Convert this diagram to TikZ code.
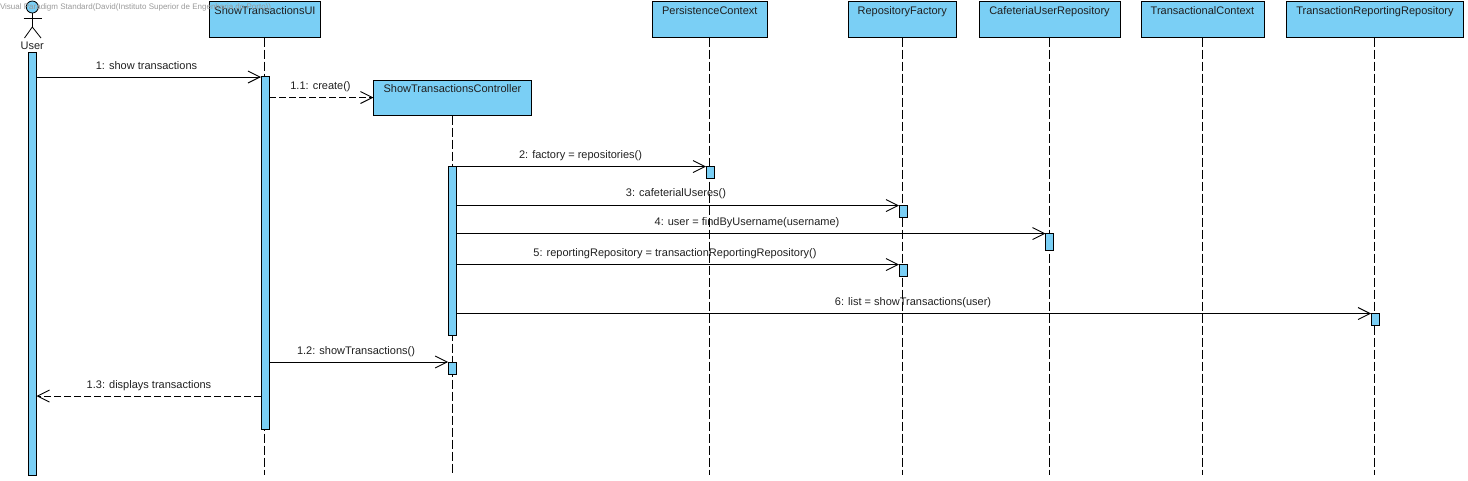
\documentclass[tikz,border=0pt]{standalone}
\usepackage{fontspec}
\setmainfont{Liberation Sans}
\usetikzlibrary{arrows.meta,calc}
\definecolor{vpblue}{HTML}{7ACFF5}
\definecolor{vptext}{HTML}{202020}
\tikzset{
  x=1pt,y=-1pt,
  every node/.style={font=\fontsize{11}{13}\selectfont,text=vptext,inner sep=0pt,outer sep=0pt},
  lifebox/.style={draw=black,fill=vpblue,line width=0.9pt,anchor=north west},
  boxlabel/.style={anchor=base},
  act/.style={draw=black,fill=vpblue,line width=0.9pt,minimum width=8pt,anchor=north west},
  lifeline/.style={draw=black,line width=0.9pt,dash pattern=on 9pt off 3pt},
  msg/.style={draw=black,line width=0.9pt,-{Straight Barb[length=12pt,width=12pt,line width=0.9pt]}},
  reply/.style={msg,dash pattern=on 7pt off 3pt},
  msglabel/.style={anchor=base},
  stick/.style={draw=black,line width=0.8pt}
}
% name, left, right, top, bottom, baseline, text
\newcommand{\lbox}[7]{%
  \node[lifebox,minimum width=#3pt-#2pt,minimum height=#5pt-#4pt] (#1) at (#2,#4) {};
  \node[boxlabel] (#1t) at ($(#1.north |- 0,#6)$) {#7};}
\begin{document}
\begin{tikzpicture}
\useasboundingbox (0,0) rectangle (1468,480);
% boxes
\lbox{ui}{209.5}{320.5}{1}{37.5}{14}{ShowTransactionsUI}
\lbox{pc}{652.5}{767}{1}{37.5}{14}{PersistenceContext}
\lbox{rf}{848.5}{956}{1}{37.5}{14}{RepositoryFactory}
\lbox{cur}{979}{1120}{1}{37.5}{14}{CafeteriaUserRepository}
\lbox{tc}{1141}{1264}{1}{37.5}{14}{TransactionalContext}
\lbox{trr}{1286.5}{1463.5}{1}{37.5}{14}{TransactionReportingRepository}
\lbox{ctl}{373.5}{531.5}{80}{115.5}{92}{ShowTransactionsController}
% lifeline ends
\coordinate (uie) at (264.5,475);
\coordinate (ctle) at (452,475);
\coordinate (pce) at (709.5,475);
\coordinate (rfe) at (902,475);
\coordinate (cure) at (1049.5,475);
\coordinate (tce) at (1202.5,475);
\coordinate (trre) at (1374.5,475);
\draw[lifeline] (ui.south -| uie) -- (uie);
\draw[lifeline] (ctl.south -| ctle) -- (ctle);
\draw[lifeline] (pc.south -| pce) -- (pce);
\draw[lifeline] (rf.south -| rfe) -- (rfe);
\draw[lifeline] (cur.south -| cure) -- (cure);
\draw[lifeline] (tc.south -| tce) -- (tce);
\draw[lifeline] (trr.south -| trre) -- (trre);
% actor
\node[draw=black,fill=vpblue,circle,minimum size=12pt,line width=0.8pt] (head) at (32.3,7) {};
\coordinate (hip) at (32.3,27);
\coordinate (arml) at (23.5,18);
\coordinate (armr) at (41.5,18);
\coordinate (legl) at (24.5,38);
\coordinate (legr) at (41,38);
\draw[stick] (head.south) -- (hip);
\draw[stick] (arml) -- (armr);
\draw[stick] (legl) -- (hip) -- (legr);
\node[anchor=base] (userlabel) at (32.3,49) {User};
% activations
\node[act,minimum height=423pt] (ua) at (28.5,52) {};
\node[act,minimum height=353.5pt] (uia) at (261,76) {};
\node[act,minimum height=169pt] (ca) at (448.2,166.5) {};
\node[act,minimum height=12.5pt] (cb) at (448.2,362) {};
\node[act,minimum height=12pt] (pa) at (706,166.5) {};
\node[act,minimum height=12pt] (ra) at (899,205.5) {};
\node[act,minimum height=12pt] (rb) at (899,264.5) {};
\node[act,minimum height=17pt] (cua) at (1045.5,233.5) {};
\node[act,minimum height=12pt] (ta) at (1371,313.5) {};
% messages
\foreach \n/\y in {a/77,b/97.5,c/166.5,d/205.5,e/233.5,f/264.5,g/313.5,h/362,i/396}{\coordinate (y\n) at (0,\y);}
\draw[msg] (ua.east |- ya) -- (uia.west |- ya);
\draw[reply] (uia.east |- yb) -- (ctl.west |- yb);
\draw[msg] (ca.east |- yc) -- (pa.west |- yc);
\draw[msg] (ca.east |- yd) -- (ra.west |- yd);
\draw[msg] (ca.east |- ye) -- (cua.west |- ye);
\draw[msg] (ca.east |- yf) -- (rb.west |- yf);
\draw[msg] (ca.east |- yg) -- (ta.west |- yg);
\draw[msg] (uia.east |- yh) -- (cb.west |- yh);
\draw[reply] (uia.west |- yi) -- (ua.east |- yi);
% labels
\node[msglabel] (l1) at (146.5,69) {1: show transactions};
\node[msglabel] (l11) at (320.5,89) {1.1: create()};
\node[msglabel] (l2) at (580.5,158) {2: factory = repositories()};
\node[msglabel] (l3) at (676,196) {3: cafeterialUseres()};
\node[msglabel] (l4) at (747,225) {4: user = findByUsername(username)};
\node[msglabel] (l5) at (675,256.5) {5: reportingRepository = transactionReportingRepository()};
\node[msglabel] (l6) at (913,305) {6: list = showTransactions(user)};
\node[msglabel] (l12) at (356,354) {1.2: showTransactions()};
\node[msglabel] (l13) at (149,388) {1.3: displays transactions};
% watermark
\node[anchor=west,font=\fontsize{8}{10}\selectfont,text=black!40] (wm) at (0,7) {Visual Paradigm Standard(David(Instituto Superior de Engenharia do Porto))};
\end{tikzpicture}
\end{document}
